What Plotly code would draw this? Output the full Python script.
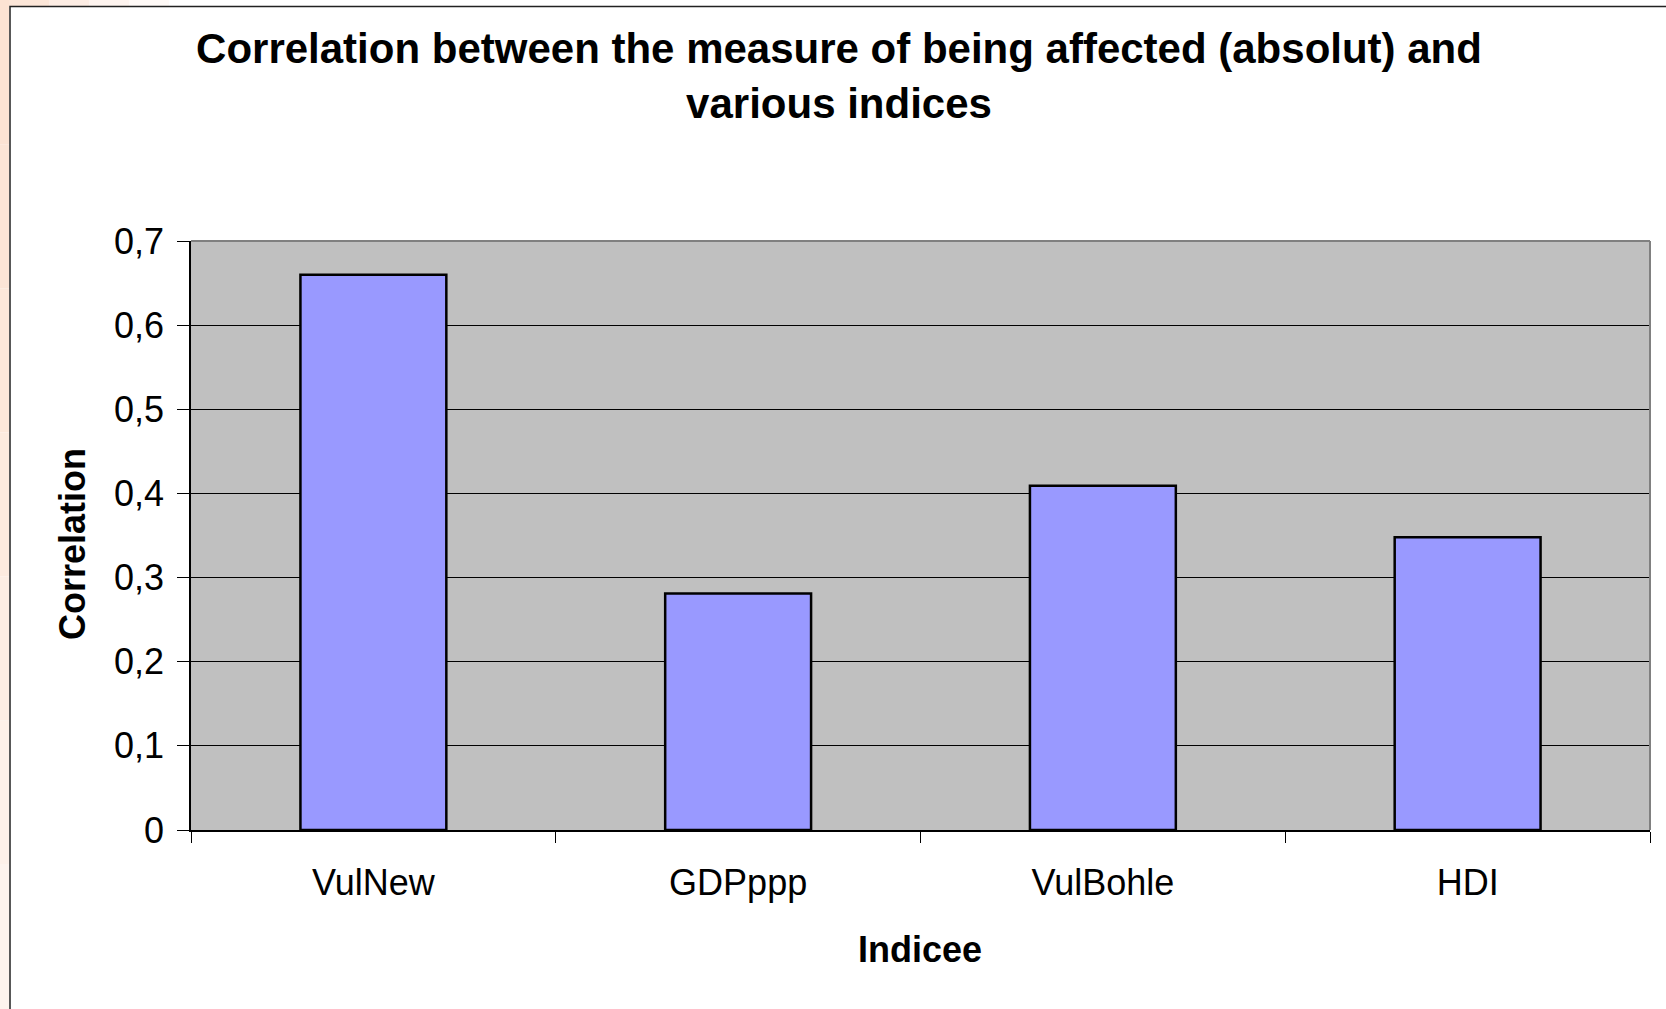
import plotly.graph_objects as go

# Correlation of the "affected" measure with each index
categories = ["VulNew", "GDPppp", "VulBohle", "HDI"]
correlations = [0.660, 0.281, 0.409, 0.348]

y_tick_values = [0, 0.1, 0.2, 0.3, 0.4, 0.5, 0.6, 0.7]
y_tick_labels = ["0", "0,1", "0,2", "0,3", "0,4", "0,5", "0,6", "0,7"]

W, H = 1666, 1009
PLOT_L, PLOT_R, PLOT_T, PLOT_B = 191, 1650, 241, 830
FONT = "Arial, Liberation Sans, sans-serif"


def px_x(x):
    return (x - PLOT_L) / (PLOT_R - PLOT_L)


def px_y(y):
    return (PLOT_B - y) / (PLOT_B - PLOT_T)


fig = go.Figure(
    go.Bar(
        x=categories,
        y=correlations,
        marker=dict(color="#9999FF", line=dict(color="black", width=2.5)),
        width=0.4,
        hoverinfo="x+y",
    )
)

shapes = []
# soft peach strip down the left edge of the page
peach = ["#FCE3D3", "#FCE5D6", "#FDE8DA", "#FDEBDF", "#FDEEE4", "#FEF1E9", "#FEF4EE"]
n = len(peach)
for i, c in enumerate(peach):
    y0 = i * H / n
    y1 = (i + 1) * H / n
    shapes.append(dict(type="rect", xref="paper", yref="paper",
                       x0=px_x(0), x1=px_x(9), y0=px_y(y1), y1=px_y(y0),
                       fillcolor=c, line=dict(width=0), layer="below"))
# peach fading along the top edge
top_fade = ["#FCE6D8", "#FDEDE4", "#FEF4EF", "#FFFAF7"]
for i, c in enumerate(top_fade):
    shapes.append(dict(type="rect", xref="paper", yref="paper",
                       x0=px_x(9 + i * 40), x1=px_x(9 + (i + 1) * 40), y0=px_y(6), y1=px_y(0),
                       fillcolor=c, line=dict(width=0), layer="below"))
# chart frame (outline only, the plot area keeps its grey fill)
shapes.append(dict(type="rect", xref="paper", yref="paper",
                   x0=px_x(10), x1=px_x(1690), y0=px_y(1030), y1=px_y(6.5),
                   fillcolor="rgba(0,0,0,0)", line=dict(color="#222222", width=1.5), layer="below"))
# plot-area border on top and right
shapes.append(dict(type="line", xref="paper", yref="paper",
                   x0=0, x1=1, y0=1, y1=1, line=dict(color="#808080", width=2), layer="above"))
shapes.append(dict(type="line", xref="paper", yref="paper",
                   x0=1, x1=1, y0=0, y1=1, line=dict(color="#808080", width=2), layer="above"))

annotations = [
    dict(text="<b>Correlation</b>", xref="paper", yref="paper",
         x=px_x(72), y=px_y(544), textangle=-90, showarrow=False,
         xanchor="center", yanchor="middle", font=dict(family=FONT, size=36, color="black")),
    dict(text="<b>Indicee</b>", xref="paper", yref="paper",
         x=px_x(920), y=px_y(949), showarrow=False,
         xanchor="center", yanchor="middle", font=dict(family=FONT, size=36, color="black")),
]

fig.update_layout(
    width=W, height=H, autosize=False,
    margin=dict(l=PLOT_L, r=W - PLOT_R, t=PLOT_T, b=H - PLOT_B, pad=0),
    paper_bgcolor="white",
    plot_bgcolor="#C0C0C0",
    showlegend=False,
    bargap=0.6,
    title=dict(
        text="<b>Correlation between the measure of being affected (absolut) and<br>various indices</b>",
        x=839 / W, xanchor="center",
        y=1 - 63 / H, yanchor="middle",
        font=dict(family=FONT, size=42, color="black"),
    ),
    xaxis=dict(
        type="category",
        showline=True, linecolor="black", linewidth=1.5,
        ticks="outside", tickson="boundaries", ticklen=11, tickwidth=1, tickcolor="black",
        showgrid=False,
        tickfont=dict(family=FONT, size=36, color="black"),
        ticklabelstandoff=20,
    ),
    yaxis=dict(
        range=[0, 0.7],
        tickvals=y_tick_values, ticktext=y_tick_labels,
        showline=True, linecolor="black", linewidth=1.5,
        ticks="outside", ticklen=12, tickwidth=1, tickcolor="black",
        showgrid=True, gridcolor="black", gridwidth=1,
        zeroline=False,
        tickfont=dict(family=FONT, size=36, color="black"),
        ticklabelstandoff=6,
    ),
    shapes=shapes,
    annotations=annotations,
)

fig.write_html("out.html")
